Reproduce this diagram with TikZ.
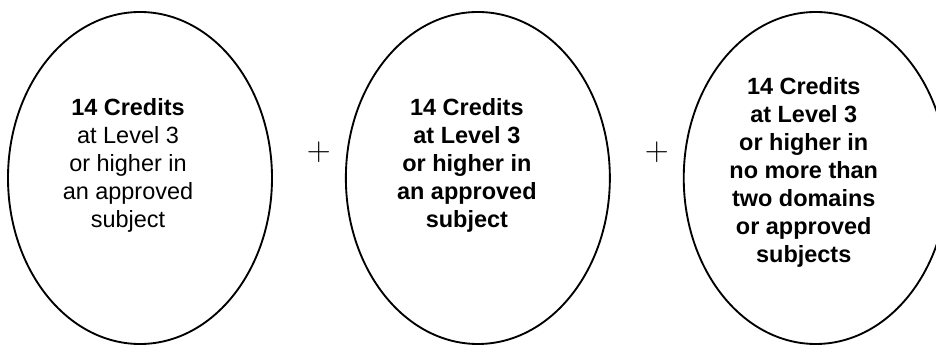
\documentclass[tikz,border=0pt]{standalone}
\usepackage{fontspec}
\setsansfont{Liberation Sans}
\usetikzlibrary{positioning,shapes.geometric}

\begin{document}
\begin{tikzpicture}[
        x=0.75pt, y=0.75pt,
        credit/.style={ellipse, draw=black, line width=1.4pt, minimum width=198pt, minimum height=249pt, inner sep=0pt},
        credtext/.style={align=center, inner sep=0pt, font=\sffamily\fontsize{17.6}{21}\selectfont},
        plussign/.style={inner sep=0pt, font=\fontsize{24}{24}\selectfont}
    ]

        \useasboundingbox (0,0) rectangle (936,345);

        % --- Ellipses ---
        \node (req1) [credit] at (140,167) {};
        \node (req2) [credit, right=54pt of req1] {};
        \node (req3) [credit, right=54pt of req2] {};

        % --- Requirements ---
        \node (text1) [credtext] at ([shift={(-12,13)}]req1.center) {\textbf{14 Credits}\\at Level 3\\or higher in\\an approved\\subject};
        \node (text2) [credtext, font=\sffamily\bfseries\fontsize{17.6}{21}\selectfont] at ([shift={(-11,13)}]req2.center) {14 Credits\\at Level 3\\or higher in\\an approved\\subject};
        \node (text3) [credtext, font=\sffamily\bfseries\fontsize{17.6}{21}\selectfont] at ([shift={(-12,6)}]req3.center) {14 Credits\\at Level 3\\or higher in\\no more than\\two domains\\or approved\\subjects};

        % --- Plus signs ---
        \node (plus1) [plussign] at ([shift={(46,26)}]req1.east) {$+$};
        \node (plus2) [plussign] at ([shift={(46,26)}]req2.east) {$+$};

\end{tikzpicture}
\end{document}
